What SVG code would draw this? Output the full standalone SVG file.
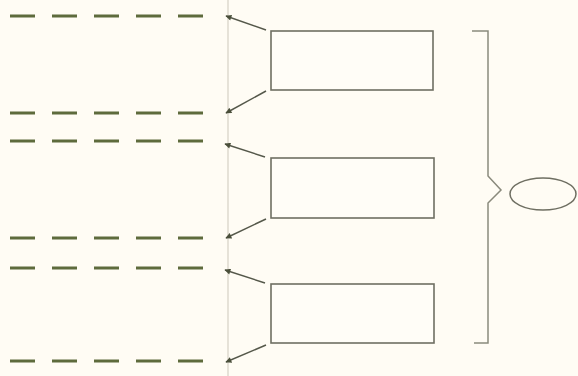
<svg xmlns="http://www.w3.org/2000/svg" width="578" height="376" viewBox="0 0 578 376">
<defs>
<marker id="ah" viewBox="0 0 10 10" refX="9" refY="5" markerWidth="9" markerHeight="6" orient="auto" markerUnits="userSpaceOnUse">
<path d="M0,0 L10,5 L0,10 z" fill="#4a4f3a"/>
</marker>
</defs>
<style>
.dash{stroke:#5e6b3c;stroke-width:3;stroke-dasharray:25 17;fill:none}
.box{fill:#fffdf7;stroke:#6f6f62;stroke-width:1.6}
.arr{stroke:#55584a;stroke-width:1.5;fill:none;marker-end:url(#ah)}
.ln{stroke:#8a8a7c;stroke-width:1.5;fill:none}
</style>
<rect width="578" height="376" fill="#fffcf4"/>
<line x1="228" y1="0" x2="228" y2="376" stroke="#cdc8bb" stroke-width="1"/>
<g id="dashes">
<line class="dash" x1="10" y1="16" x2="210" y2="16"/>
<line class="dash" x1="10" y1="113" x2="210" y2="113"/>
<line class="dash" x1="10" y1="141" x2="210" y2="141"/>
<line class="dash" x1="10" y1="238" x2="210" y2="238"/>
<line class="dash" x1="10" y1="268" x2="210" y2="268"/>
<line class="dash" x1="10" y1="361" x2="210" y2="361"/>
</g>
<g id="box1"><rect class="box" x="271" y="31" width="162" height="59"/></g>
<g id="box2"><rect class="box" x="271" y="158" width="163" height="60"/></g>
<g id="box3"><rect class="box" x="271" y="284" width="163" height="59"/></g>
<g id="connectors">
<line class="arr" x1="266" y1="30" x2="226" y2="16"/>
<line class="arr" x1="266" y1="91" x2="226" y2="113"/>
<line class="arr" x1="265" y1="157" x2="225" y2="144"/>
<line class="arr" x1="266" y1="219" x2="226" y2="238"/>
<line class="arr" x1="265" y1="283" x2="225" y2="270"/>
<line class="arr" x1="266" y1="345" x2="226" y2="362"/>
</g>
<g id="bracket"><path class="ln" d="M472,31 H488 V176 L501,190 L488,203 V343 H474"/></g>
<g id="ellipse"><ellipse cx="543" cy="194" rx="33" ry="16" fill="none" stroke="#6f6f62" stroke-width="1.5"/></g>
</svg>
